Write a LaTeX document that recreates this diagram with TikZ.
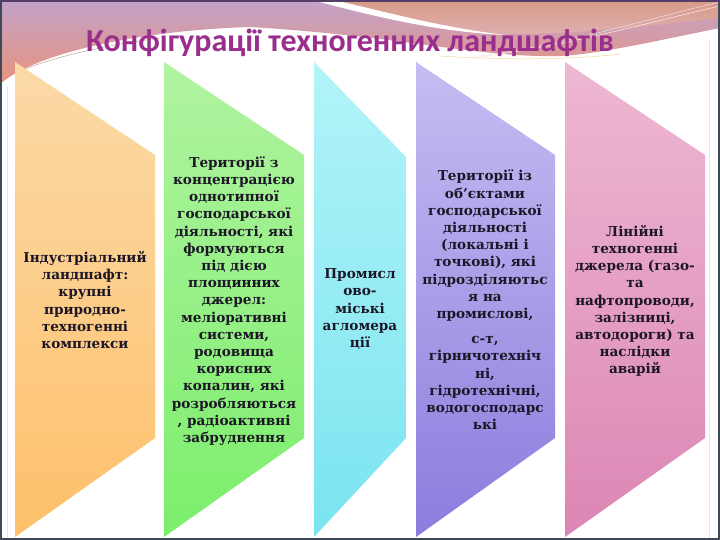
\documentclass[tikz,border=0pt]{standalone}
\usepackage{fontspec}
\setmainfont{DejaVu Serif}
\newfontfamily\titlefont{Carlito}
\definecolor{titlecol}{HTML}{9A2E8C}
\definecolor{textcol}{HTML}{1C1626}
\definecolor{framecol}{HTML}{3E4A58}
\definecolor{mauveA}{HTML}{C3A2C9}
\definecolor{salmonA}{HTML}{E8937C}
\definecolor{salmonT}{HTML}{D89A86}
\definecolor{salmonB}{HTML}{DEB0B2}
\definecolor{topline}{HTML}{543E68}
\definecolor{orT}{HTML}{FBDAA8}\definecolor{orB}{HTML}{FEC06A}
\definecolor{grT}{HTML}{B0F3A0}\definecolor{grB}{HTML}{7CEE6C}
\definecolor{cyT}{HTML}{B2F4F8}\definecolor{cyB}{HTML}{7AE4F0}
\definecolor{puT}{HTML}{C4BEF2}\definecolor{puB}{HTML}{8C7CDE}
\definecolor{piT}{HTML}{EEB8D2}\definecolor{piB}{HTML}{DC86B4}
\tikzset{
  coltext/.style={font=\bfseries\fontsize{13.6}{17.2}\selectfont, align=center, text=textcol, inner sep=0pt},
}
\begin{document}
\begin{tikzpicture}[x=1pt,y=-1pt]
\useasboundingbox (0,0) rectangle (720,540);
\fill[white] (0,0) rectangle (720,540);
% top decorative band
\shade[top color=mauveA, bottom color=salmonA]
  (0,0) -- (720,0) -- (720,28) .. controls (660,40) and (600,54) .. (560,56)
  .. controls (480,58) and (400,36) .. (250,27)
  .. controls (150,30) and (40,50) .. (0,84) -- cycle;
\shade[top color=salmonT, bottom color=salmonB]
  (330,0) -- (720,0) -- (720,18) .. controls (650,26) and (560,36) .. (492,34)
  .. controls (430,28) and (380,12) .. (330,0) -- cycle;
% white swoosh stripe
\fill[white] (312,0) -- (334,0) .. controls (390,13) and (440,27) .. (505,35)
  .. controls (440,32) and (380,18) .. (312,0) -- cycle;
% thin lines
\draw[white!60!pink, line width=0.6pt] (470,58) .. controls (560,48) and (650,22) .. (720,6);
\draw[white!80!gray, line width=0.5pt] (480,56) .. controls (570,44) and (650,18) .. (720,2);
\draw[brown!50!gray, line width=0.5pt, opacity=0.7] (18,72) .. controls (50,58) and (100,46) .. (160,38);
\draw[yellow!40!brown, line width=0.5pt, opacity=0.5] (440,56) .. controls (500,60) and (570,60) .. (620,54);
% faint inner lines
\draw[gray!20, line width=0.6pt] (7,86) -- (7,538);
\draw[gray!20, line width=0.6pt] (709,40) -- (709,538);
% columns
\shade[top color=orT, bottom color=orB] (15,62) -- (155,155) -- (155,438) -- (15,537) -- cycle;
\shade[top color=grT, bottom color=grB] (164,62) -- (304,155) -- (304,438) -- (164,537) -- cycle;
\shade[top color=cyT, bottom color=cyB] (314,62) -- (406,157) -- (406,438) -- (314,537) -- cycle;
\shade[top color=puT, bottom color=puB] (416,62) -- (555,155) -- (555,438) -- (416,537) -- cycle;
\shade[top color=piT, bottom color=piB] (565,62) -- (705,155) -- (705,438) -- (565,537) -- cycle;
% frame
\draw[framecol, line width=2.4pt] (1.2,0) -- (1.2,540);
\draw[framecol, line width=2.4pt] (0,538.8) -- (720,538.8);
\draw[framecol, line width=2.4pt] (718.8,0) -- (718.8,540);
\draw[topline, line width=1.6pt] (0,0.8) -- (720,0.8);
% title
\node[font=\titlefont\bfseries\fontsize{32}{38}\selectfont, text=titlecol, anchor=base, inner sep=0pt] (title) at (350,52) {Конфігурації техногенних ландшафтів};
% texts
\node[coltext] (t1) at (85,300) {Індустріальний\\ландшафт:\\крупні\\природно-\\техногенні\\комплекси};
\node[coltext] (t2) at (234,301) {Території з\\концентрацією\\однотипної\\господарської\\діяльності, які\\формуються\\під дією\\площинних\\джерел:\\меліоративні\\системи,\\родовища\\корисних\\копалин, які\\розробляються\\, радіоактивні\\забруднення};
\node[coltext] (t3) at (360,309) {Промисл\\ово-\\міські\\агломера\\ції};
\node[coltext] (t4) at (485,300) {Території із\\об’єктами\\господарської\\діяльності\\(локальні і\\точкові), які\\підрозділяютьс\\я на\\промислові,\\[8pt]с-т,\\гірничотехніч\\ні,\\гідротехнічні,\\водогосподарс\\ькі};
\node[coltext] (t5) at (635,301) {Лінійні\\техногенні\\джерела (газо-\\та\\нафтопроводи,\\залізниці,\\автодороги) та\\наслідки\\аварій};
\end{tikzpicture}
\end{document}
